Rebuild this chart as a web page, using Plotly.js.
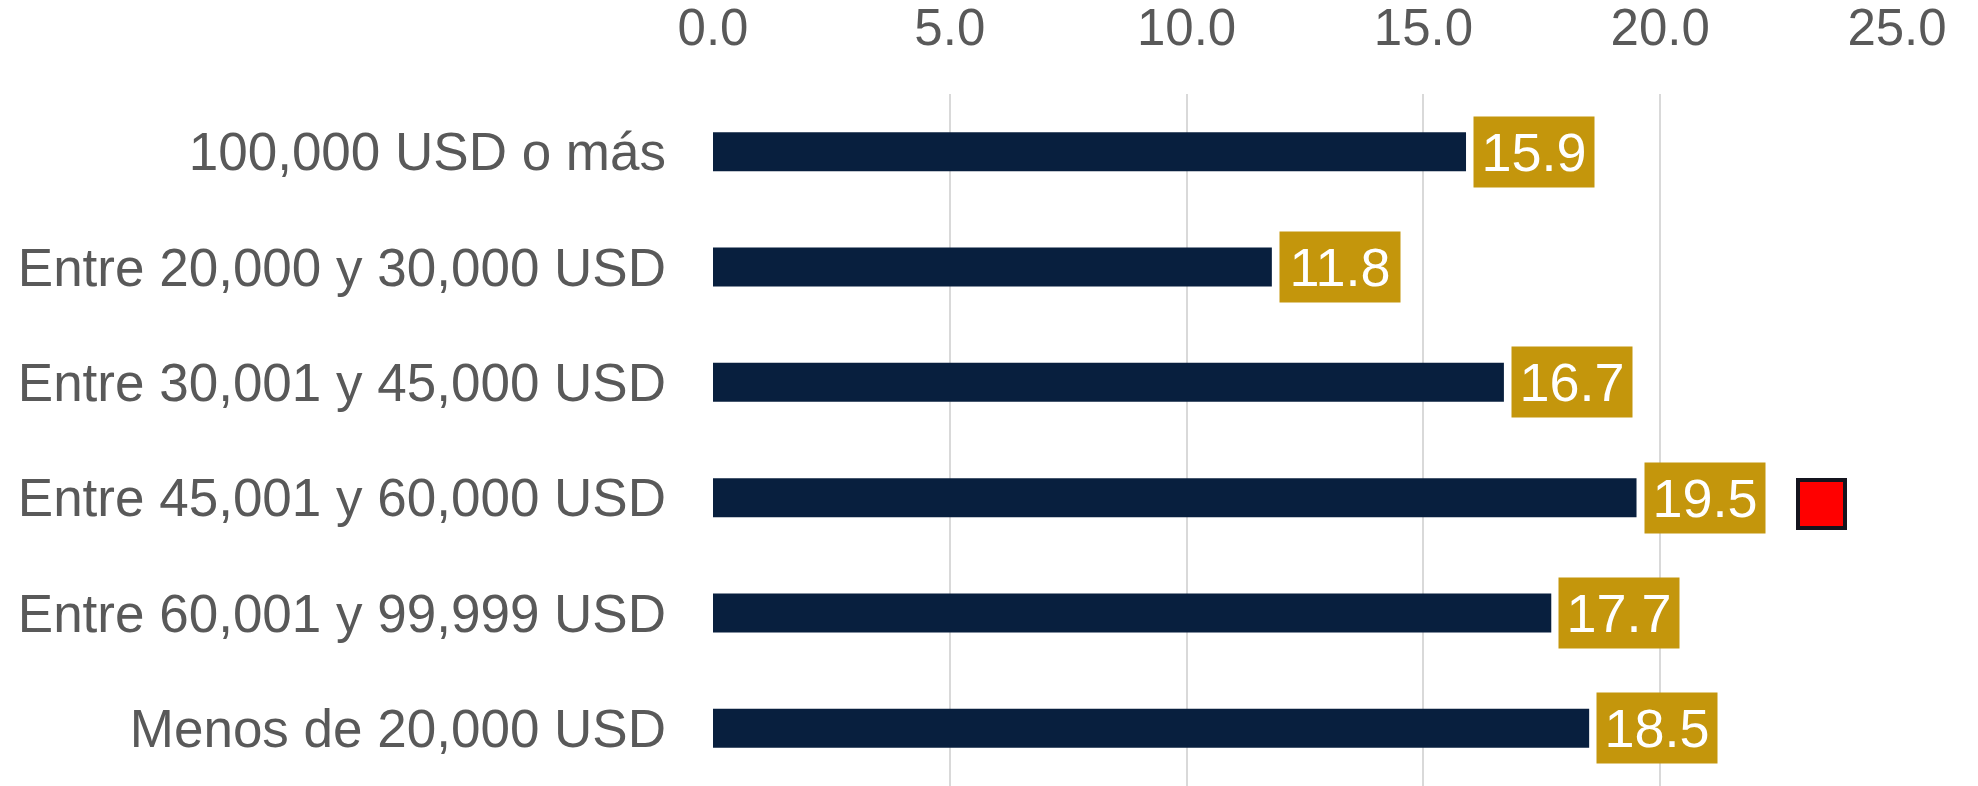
<!DOCTYPE html>
<html>
<head>
<meta charset="utf-8">
<script src="https://cdn.plot.ly/plotly-3.0.1.min.js"></script>
<style>html,body{margin:0;padding:0;background:#fff;}#chart{width:1978px;height:786px;}</style>
</head>
<body>
<div id="chart"></div>
<script>
const categories = [
  "100,000 USD o más",
  "Entre 20,000 y 30,000 USD",
  "Entre 30,001 y 45,000 USD",
  "Entre 45,001 y 60,000 USD",
  "Entre 60,001 y 99,999 USD",
  "Menos de 20,000 USD"
];
const values = [15.9, 11.8, 16.7, 19.5, 17.7, 18.5];
const tickValues = [0, 5, 10, 15, 20, 25];
const tickLabels = ["0.0", "5.0", "10.0", "15.0", "20.0", "25.0"];
const highlightCategory = ["Entre 45,001 y 60,000 USD"];
const highlightX = [23.4];

const FONT = "Liberation Sans, Arial, sans-serif";

const barTrace = {
  type: "bar",
  orientation: "h",
  x: values,
  y: categories,
  marker: {color: "#081F3E"},
  hoverinfo: "none",
  showlegend: false
};

const annotations = values.map((v, i) => ({
  x: v, y: categories[i], xref: "x", yref: "y",
  xanchor: "left", yanchor: "middle", xshift: 7,
  text: v.toFixed(1),
  showarrow: false,
  bgcolor: "#C4960C",
  borderpad: 2,
  width: 116, height: 66,
  align: "center",
  font: {family: FONT, size: 54, color: "#FFFFFF"}
}));

highlightCategory.forEach((c, i) => {
  annotations.push({
    x: highlightX[i], y: c, xref: "x", yref: "y",
    xanchor: "center", yanchor: "middle", yshift: -6,
    text: " ", showarrow: false,
    bgcolor: "#FF0000", bordercolor: "#14141e", borderwidth: 4,
    borderpad: 0, width: 43, height: 44,
    font: {family: FONT, size: 10, color: "#FF0000"}
  });
});

const layout = {
  width: 1978, height: 786,
  margin: {l: 713, r: 81, t: 94, b: 0, pad: 0},
  paper_bgcolor: "#FFFFFF",
  plot_bgcolor: "#FFFFFF",
  bargap: 0.662,
  font: {family: FONT, color: "#595959"},
  xaxis: {
    side: "top",
    range: [0, 25],
    tickvals: tickValues,
    ticktext: tickLabels,
    ticks: "",
    ticklabelstandoff: 38,
    showgrid: true,
    gridcolor: "#D9D9D9",
    gridwidth: 2,
    zeroline: false,
    showline: false,
    tickfont: {family: FONT, size: 51, color: "#595959"},
    fixedrange: true
  },
  yaxis: {
    type: "category",
    categoryorder: "array",
    categoryarray: categories,
    autorange: "reversed",
    ticks: "",
    ticklabelstandoff: 46,
    showgrid: false,
    zeroline: false,
    showline: false,
    tickfont: {family: FONT, size: 53, color: "#595959"},
    fixedrange: true
  },
  annotations: annotations,
  showlegend: false
};

Plotly.newPlot("chart", [barTrace], layout, {staticPlot: true, displayModeBar: false});
</script>
</body>
</html>
